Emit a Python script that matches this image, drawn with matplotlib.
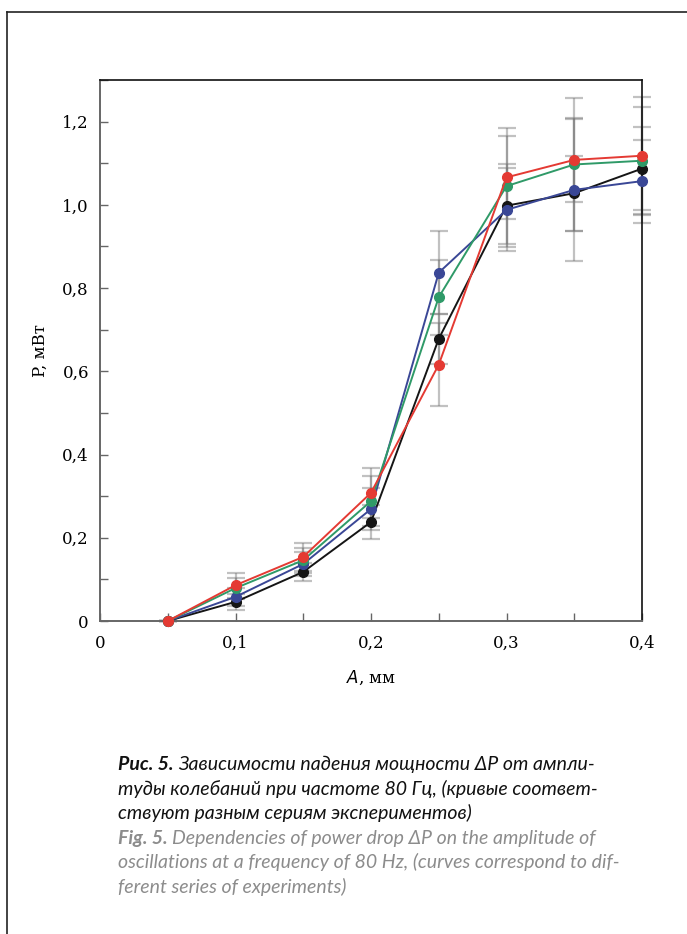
import matplotlib.pyplot as plt
from matplotlib.lines import Line2D
from matplotlib.ticker import MultipleLocator, FuncFormatter

# amplitude, mm
amp = [0.05, 0.10, 0.15, 0.20, 0.25, 0.30, 0.35, 0.40]

# power drop, mW (four series of experiments)
p_black = [0.0, 0.046, 0.118, 0.238, 0.678, 0.998, 1.028, 1.087]
p_blue = [0.0, 0.058, 0.137, 0.269, 0.837, 0.988, 1.036, 1.057]
p_green = [0.0, 0.079, 0.146, 0.288, 0.778, 1.045, 1.097, 1.106]
p_red = [0.0, 0.086, 0.154, 0.308, 0.616, 1.066, 1.108, 1.118]

err_black = [0.0, 0.020, 0.022, 0.040, 0.060, 0.100, 0.090, 0.100]
err_blue = [0.0, 0.022, 0.030, 0.050, 0.100, 0.100, 0.170, 0.100]
err_green = [0.0, 0.025, 0.030, 0.060, 0.090, 0.140, 0.160, 0.130]
err_red = [0.0, 0.030, 0.033, 0.060, 0.100, 0.100, 0.100, 0.140]

series = [
    (p_black, err_black, '#151515'),
    (p_blue, err_blue, '#3a4796'),
    (p_green, err_green, '#2f9a68'),
    (p_red, err_red, '#e43a33'),
]

x_ticks = [0, 0.1, 0.2, 0.3, 0.4]
y_ticks = [0, 0.2, 0.4, 0.6, 0.8, 1.0, 1.2]

caption_ru = ['Зависимости падения мощности ΔP от ампли-',
              'туды колебаний при частоте 80 Гц, (кривые соответ-',
              'ствуют разным сериям экспериментов)']
caption_en = ['Dependencies of power drop ΔP on the amplitude of',
              'oscillations at a frequency of 80 Hz, (curves correspond to dif-',
              'ferent series of experiments)']

fig = plt.figure(figsize=(6.87, 9.34), dpi=100)
ax = fig.add_axes([100 / 687, 1 - 621 / 934, 542 / 687, 541 / 934])

for p, e, c in series:
    ax.errorbar(amp, p, yerr=e, fmt='none', ecolor='#777777', alpha=0.45,
                elinewidth=1.6, capsize=6.5, capthick=1.6, zorder=2, clip_on=False)
for p, e, c in series:
    ax.plot(amp, p, '-o', color=c, lw=1.4, ms=7, zorder=3, clip_on=False)

ax.set_xlim(0, 0.4)
ax.set_ylim(0, 1.3)
ax.xaxis.set_major_locator(MultipleLocator(0.05))
ax.yaxis.set_major_locator(MultipleLocator(0.1))


def fmt_x(v, pos):
    if abs(round(v * 10) - v * 10) > 1e-6:
        return ''
    return '0' if abs(v) < 1e-9 else ('%.1f' % v).replace('.', ',')


def fmt_y(v, pos):
    k = round(v * 10)
    if k % 2 or v > 1.25:
        return ''
    return '0' if k == 0 else ('%.1f' % v).replace('.', ',')


ax.xaxis.set_major_formatter(FuncFormatter(fmt_x))
ax.yaxis.set_major_formatter(FuncFormatter(fmt_y))
ax.tick_params(direction='in', length=6, width=1, color='#666666',
               labelsize=12, pad=8)
ax.tick_params(axis='x', pad=10)
for lab in ax.get_xticklabels() + ax.get_yticklabels():
    lab.set_family('DejaVu Serif')

for s in ['left', 'bottom']:
    ax.spines[s].set_color('#666666')
    ax.spines[s].set_linewidth(1.4)
for s in ['top', 'right']:
    ax.spines[s].set_color('#111111')
    ax.spines[s].set_linewidth(1.2)

ax.set_xlabel(r'$\mathit{A}$, мм', family='DejaVu Serif', fontsize=12, labelpad=12)
ax.set_ylabel('P, мВт', family='DejaVu Serif', fontsize=12, labelpad=10)

# outer frame
fig.add_artist(Line2D([7 / 687, 7 / 687], [0, 1 - 12 / 934], color='#222222', lw=1.2))
fig.add_artist(Line2D([7 / 687, 1], [1 - 12 / 934, 1 - 12 / 934], color='#222222', lw=1.2))

# caption
x0 = 118 / 687
fs = 14
y = 1 - 770 / 934
dy = 24.6 / 934
cap = 'Lato'
t = fig.text(x0, y, 'Рис. 5. ', family=cap, style='italic', weight='bold',
             fontsize=fs, color='#111111')
fig.canvas.draw()
bb = t.get_window_extent()
fig.text(bb.x1 / fig.bbox.width, y, caption_ru[0], family=cap, style='italic',
         fontsize=fs, color='#111111')
for i, line in enumerate(caption_ru[1:]):
    fig.text(x0, y - (i + 1) * dy, line, family=cap, style='italic',
             fontsize=fs, color='#111111')
y2 = y - 3 * dy
t2 = fig.text(x0, y2, 'Fig. 5. ', family=cap, style='italic', weight='bold',
              fontsize=fs, color='#8c8c8c')
fig.canvas.draw()
bb2 = t2.get_window_extent()
fig.text(bb2.x1 / fig.bbox.width, y2, caption_en[0], family=cap, style='italic',
         fontsize=fs, color='#8c8c8c')
for i, line in enumerate(caption_en[1:]):
    fig.text(x0, y2 - (i + 1) * dy, line, family=cap, style='italic',
             fontsize=fs, color='#8c8c8c')

fig.savefig('out.png', dpi=100)
